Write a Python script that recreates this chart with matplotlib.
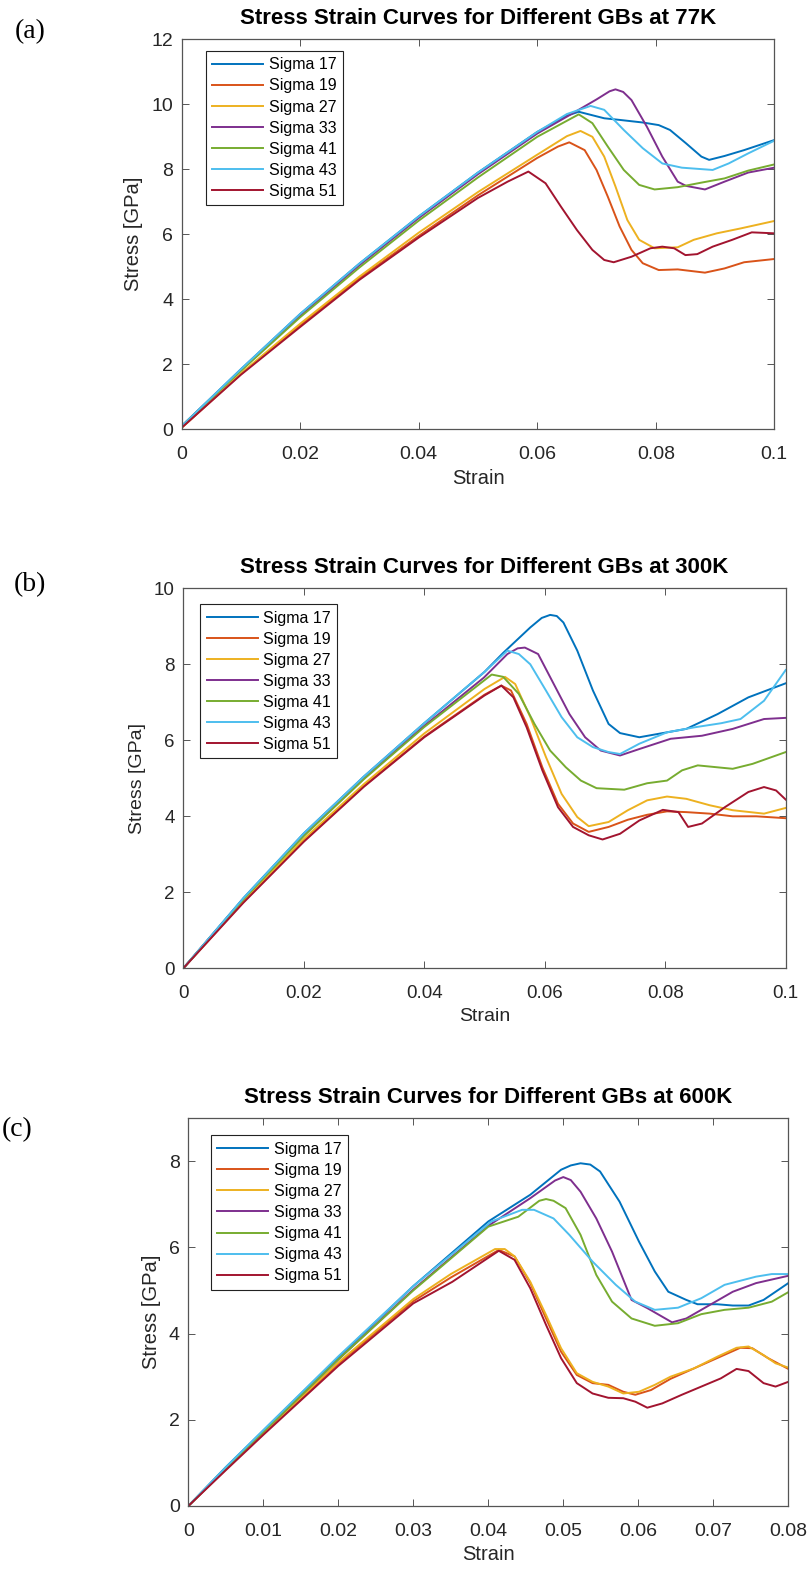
import numpy as np
import matplotlib
matplotlib.use("Agg")
from matplotlib import pyplot as plt
from matplotlib.ticker import FormatStrFormatter

labels = ['Sigma 17', 'Sigma 19', 'Sigma 27', 'Sigma 33', 'Sigma 41', 'Sigma 43', 'Sigma 51']
colors = ['#0072BD', '#D95319', '#EDB120', '#7E2F8E', '#77AC30', '#4DBEEE', '#A2142F']

# ---- 77K ----
strain_77 = {
    'Sigma 17': [0, 0.01, 0.02, 0.03, 0.04, 0.05, 0.06, 0.065, 0.067, 0.0713, 0.0739, 0.0778, 0.0805, 0.0824,
                 0.0851, 0.0877, 0.089, 0.0916, 0.0949, 0.1],
    'Sigma 19': [0, 0.01, 0.02, 0.03, 0.04, 0.05, 0.06, 0.0635, 0.0654, 0.068, 0.07, 0.0719, 0.0739, 0.0759, 0.0778,
                 0.0805, 0.0837, 0.0883, 0.0916, 0.0949, 0.1],
    'Sigma 27': [0, 0.01, 0.02, 0.03, 0.04, 0.05, 0.06, 0.065, 0.0673, 0.0693, 0.0713, 0.0732, 0.0752, 0.0772,
                 0.0798, 0.0837, 0.0864, 0.0903, 0.0943, 0.1],
    'Sigma 33': [0, 0.01, 0.02, 0.03, 0.04, 0.05, 0.06, 0.065, 0.07, 0.0722, 0.0732, 0.0745, 0.0759, 0.0785, 0.0811,
                 0.0837, 0.0851, 0.0883, 0.0916, 0.0956, 0.1],
    'Sigma 41': [0, 0.01, 0.02, 0.03, 0.04, 0.05, 0.06, 0.067, 0.0693, 0.0719, 0.0746, 0.0772, 0.0798, 0.0837,
                 0.0877, 0.0916, 0.0956, 0.1],
    'Sigma 43': [0, 0.01, 0.02, 0.03, 0.04, 0.05, 0.06, 0.065, 0.069, 0.0713, 0.0746, 0.0778, 0.0811, 0.0844,
                 0.0896, 0.0923, 0.0956, 0.1],
    'Sigma 51': [0, 0.01, 0.02, 0.03, 0.04, 0.05, 0.055, 0.0585, 0.0614, 0.064, 0.0667, 0.0693, 0.0713, 0.0729,
                 0.0759, 0.0791, 0.0811, 0.0831, 0.085, 0.087, 0.0896, 0.0929, 0.0962, 0.1],
}
stress_77 = {
    'Sigma 17': [0.1, 1.85, 3.55, 5.1, 6.55, 7.9, 9.15, 9.65, 9.77, 9.57, 9.52, 9.44, 9.36, 9.21, 8.8, 8.39, 8.29,
                 8.41, 8.59, 8.9],
    'Sigma 19': [0.05, 1.7, 3.2, 4.65, 5.95, 7.2, 8.35, 8.7, 8.83, 8.59, 7.98, 7.16, 6.24, 5.52, 5.11, 4.9, 4.92,
                 4.82, 4.95, 5.14, 5.24],
    'Sigma 27': [0.05, 1.72, 3.25, 4.7, 6.05, 7.3, 8.45, 9.02, 9.18, 9.0, 8.39, 7.47, 6.44, 5.83, 5.57, 5.6, 5.83,
                 6.03, 6.18, 6.41],
    'Sigma 33': [0.1, 1.82, 3.5, 5.05, 6.5, 7.85, 9.1, 9.62, 10.15, 10.4, 10.46, 10.38, 10.13, 9.31, 8.39, 7.62,
                 7.49, 7.38, 7.62, 7.9, 8.05],
    'Sigma 41': [0.1, 1.8, 3.45, 4.98, 6.42, 7.75, 9.0, 9.69, 9.42, 8.7, 7.98, 7.52, 7.38, 7.45, 7.59, 7.72, 7.96,
                 8.15],
    'Sigma 43': [0.1, 1.85, 3.55, 5.1, 6.55, 7.9, 9.15, 9.7, 9.95, 9.83, 9.21, 8.65, 8.18, 8.05, 7.98, 8.18, 8.49,
                 8.88],
    'Sigma 51': [0.05, 1.68, 3.15, 4.6, 5.9, 7.12, 7.62, 7.93, 7.57, 6.85, 6.13, 5.52, 5.21, 5.14, 5.31, 5.57, 5.62,
                 5.57, 5.36, 5.39, 5.62, 5.83, 6.06, 6.03],
}

# ---- 300K ----
strain_300 = {
    'Sigma 17': [0, 0.01, 0.02, 0.03, 0.04, 0.05, 0.0531, 0.0576, 0.0595, 0.0609, 0.062, 0.0631, 0.0654, 0.068,
                 0.0706, 0.0725, 0.0757, 0.0803, 0.0835, 0.0887, 0.0938, 0.1],
    'Sigma 19': [0, 0.01, 0.02, 0.03, 0.04, 0.05, 0.0528, 0.0544, 0.057, 0.0596, 0.0622, 0.0647, 0.0673, 0.0706,
                 0.0738, 0.077, 0.0803, 0.0835, 0.0874, 0.0912, 0.0951, 0.1],
    'Sigma 27': [0, 0.01, 0.02, 0.03, 0.04, 0.05, 0.0534, 0.0551, 0.0576, 0.0602, 0.0628, 0.0654, 0.0673, 0.0706,
                 0.0738, 0.077, 0.0803, 0.0835, 0.0874, 0.0912, 0.0964, 0.1],
    'Sigma 33': [0, 0.01, 0.02, 0.03, 0.04, 0.0499, 0.0538, 0.0555, 0.0567, 0.0589, 0.0615, 0.0641, 0.0667, 0.0693,
                 0.0725, 0.0757, 0.0809, 0.0861, 0.0912, 0.0964, 0.1],
    'Sigma 41': [0, 0.01, 0.02, 0.03, 0.04, 0.0512, 0.0531, 0.0557, 0.0583, 0.0609, 0.0635, 0.066, 0.0686, 0.0732,
                 0.077, 0.0803, 0.0828, 0.0854, 0.0912, 0.0945, 0.1],
    'Sigma 43': [0, 0.01, 0.02, 0.03, 0.04, 0.05, 0.0538, 0.0557, 0.0576, 0.0602, 0.0628, 0.0654, 0.068, 0.0706,
                 0.0725, 0.0757, 0.0803, 0.0848, 0.0893, 0.0925, 0.0964, 0.1],
    'Sigma 51': [0, 0.01, 0.02, 0.03, 0.04, 0.05, 0.0528, 0.0548, 0.057, 0.0596, 0.0622, 0.0647, 0.0673, 0.0696,
                 0.0725, 0.0757, 0.0796, 0.0822, 0.0838, 0.0861, 0.0899, 0.0938, 0.0964, 0.0984, 0.1],
}
stress_300 = {
    'Sigma 17': [0, 1.85, 3.55, 5.05, 6.45, 7.8, 8.3, 8.97, 9.22, 9.3, 9.27, 9.1, 8.36, 7.31, 6.43, 6.19, 6.08,
                 6.21, 6.3, 6.69, 7.13, 7.5],
    'Sigma 19': [0, 1.75, 3.35, 4.8, 6.1, 7.2, 7.44, 7.31, 6.43, 5.29, 4.33, 3.81, 3.59, 3.72, 3.91, 4.04, 4.13,
                 4.11, 4.07, 4.0, 4.0, 3.95],
    'Sigma 27': [0, 1.77, 3.4, 4.85, 6.18, 7.35, 7.67, 7.48, 6.61, 5.56, 4.59, 3.98, 3.74, 3.85, 4.16, 4.42, 4.52,
                 4.46, 4.29, 4.16, 4.07, 4.22],
    'Sigma 33': [0, 1.83, 3.5, 5.0, 6.38, 7.65, 8.27, 8.42, 8.44, 8.27, 7.48, 6.69, 6.08, 5.73, 5.6, 5.77, 6.04,
                 6.12, 6.3, 6.56, 6.59],
    'Sigma 41': [0, 1.82, 3.48, 4.98, 6.35, 7.73, 7.67, 7.22, 6.43, 5.73, 5.29, 4.94, 4.74, 4.7, 4.87, 4.94, 5.21,
                 5.34, 5.25, 5.38, 5.69],
    'Sigma 43': [0, 1.85, 3.55, 5.05, 6.45, 7.8, 8.36, 8.27, 8.0, 7.31, 6.61, 6.08, 5.82, 5.69, 5.64, 5.91, 6.21,
                 6.34, 6.45, 6.56, 7.04, 7.85],
    'Sigma 51': [0, 1.73, 3.33, 4.78, 6.08, 7.18, 7.44, 7.13, 6.34, 5.21, 4.24, 3.72, 3.5, 3.39, 3.54, 3.89, 4.17,
                 4.11, 3.72, 3.81, 4.24, 4.64, 4.77, 4.68, 4.44],
}

# ---- 600K ----
strain_600 = {
    'Sigma 17': [0, 0.005, 0.01, 0.02, 0.03, 0.04, 0.0456, 0.0497, 0.051, 0.0523, 0.0536, 0.0549, 0.0575, 0.0601,
                 0.0622, 0.064, 0.0664, 0.0679, 0.0705, 0.0726, 0.0747, 0.0767, 0.08],
    'Sigma 19': [0, 0.005, 0.01, 0.02, 0.03, 0.035, 0.0414, 0.0435, 0.0456, 0.0477, 0.0497, 0.0518, 0.0539, 0.056,
                 0.058, 0.0596, 0.0617, 0.0643, 0.0674, 0.0705, 0.0736, 0.0752, 0.0773, 0.08],
    'Sigma 27': [0, 0.005, 0.01, 0.02, 0.03, 0.035, 0.0409, 0.0422, 0.0435, 0.0456, 0.0477, 0.0497, 0.0518, 0.0539,
                 0.056, 0.058, 0.0601, 0.0622, 0.0643, 0.0674, 0.0705, 0.0731, 0.0747, 0.0767, 0.0783, 0.08],
    'Sigma 33': [0, 0.005, 0.01, 0.02, 0.03, 0.04, 0.0456, 0.0489, 0.05, 0.051, 0.0523, 0.0544, 0.0565, 0.0591,
                 0.0612, 0.0645, 0.0664, 0.0695, 0.0726, 0.0757, 0.08],
    'Sigma 41': [0, 0.005, 0.01, 0.02, 0.03, 0.04, 0.044, 0.0468, 0.0477, 0.0487, 0.0503, 0.0523, 0.0544, 0.0565,
                 0.0591, 0.0622, 0.0653, 0.0684, 0.0715, 0.0747, 0.0778, 0.08],
    'Sigma 43': [0, 0.005, 0.01, 0.02, 0.03, 0.0404, 0.0445, 0.0461, 0.0487, 0.0508, 0.0539, 0.057, 0.0596, 0.0622,
                 0.0653, 0.0684, 0.0715, 0.0757, 0.0778, 0.08],
    'Sigma 51': [0, 0.005, 0.01, 0.02, 0.03, 0.0352, 0.0414, 0.0435, 0.0456, 0.0477, 0.0497, 0.0518, 0.0539, 0.056,
                 0.058, 0.0596, 0.0612, 0.0632, 0.0658, 0.0684, 0.071, 0.0731, 0.0747, 0.0767, 0.0783, 0.08],
}
stress_600 = {
    'Sigma 17': [0, 0.9, 1.75, 3.45, 5.1, 6.6, 7.22, 7.8, 7.9, 7.95, 7.92, 7.76, 7.06, 6.13, 5.44, 4.97, 4.78,
                 4.68, 4.68, 4.65, 4.65, 4.78, 5.17],
    'Sigma 19': [0, 0.85, 1.68, 3.3, 4.75, 5.3, 5.94, 5.79, 5.17, 4.35, 3.58, 3.04, 2.85, 2.81, 2.65, 2.58, 2.69,
                 2.95, 3.19, 3.43, 3.67, 3.66, 3.43, 3.18],
    'Sigma 27': [0, 0.87, 1.7, 3.33, 4.8, 5.38, 5.96, 5.96, 5.79, 5.2, 4.43, 3.66, 3.08, 2.88, 2.77, 2.61, 2.65,
                 2.81, 3.0, 3.19, 3.46, 3.67, 3.7, 3.5, 3.31, 3.21],
    'Sigma 33': [0, 0.88, 1.72, 3.4, 5.02, 6.5, 7.14, 7.55, 7.63, 7.56, 7.29, 6.67, 5.9, 4.78, 4.59, 4.26, 4.35,
                 4.66, 4.97, 5.17, 5.34],
    'Sigma 41': [0, 0.88, 1.72, 3.4, 5.0, 6.48, 6.71, 7.08, 7.12, 7.08, 6.91, 6.29, 5.36, 4.74, 4.35, 4.18, 4.24,
                 4.45, 4.55, 4.6, 4.74, 4.96],
    'Sigma 43': [0, 0.9, 1.76, 3.47, 5.1, 6.6, 6.87, 6.87, 6.67, 6.29, 5.67, 5.13, 4.74, 4.55, 4.6, 4.82, 5.13,
                 5.32, 5.38, 5.38],
    'Sigma 51': [0, 0.83, 1.65, 3.25, 4.7, 5.2, 5.92, 5.71, 5.05, 4.2, 3.43, 2.85, 2.61, 2.51, 2.5, 2.42, 2.28,
                 2.38, 2.58, 2.77, 2.96, 3.18, 3.13, 2.85, 2.77, 2.88],
}

W, H = 812, 1574
fig = plt.figure(figsize=(W / 100, H / 100), dpi=100)
axcol = '#555555'
txtcol = '#262626'


def make_axes(l, t, r, b):
    return fig.add_axes([l / W, 1 - b / H, (r - l) / W, (b - t) / H])


def draw_panel(ax, strain, stress, title, xmax, xstep, ymax, ystep, anchor, fs):
    for lab, col in zip(labels, colors):
        ax.plot(strain[lab], stress[lab], color=col, lw=1.4, label=lab)
    ax.set_xlim(0, xmax)
    ax.set_ylim(0, ymax)
    ax.set_xticks(np.arange(0, xmax + 1e-9, xstep))
    ax.set_yticks(np.arange(0, ymax + 1e-9, ystep))
    ax.xaxis.set_major_formatter(FormatStrFormatter('%g'))
    ax.yaxis.set_major_formatter(FormatStrFormatter('%g'))
    ax.tick_params(direction='in', top=True, right=True, length=5, width=0.7,
                   colors=axcol, labelcolor=txtcol, labelsize=fs)
    ax.tick_params(axis='x', pad=12)
    ax.tick_params(axis='y', pad=6)
    for sp in ax.spines.values():
        sp.set_color(axcol)
        sp.set_linewidth(0.9)
    ax.set_title(title, fontsize=16, fontweight='bold', pad=11)
    ax.set_xlabel('Strain', fontsize=fs + 0.5, color=txtcol, labelpad=4)
    ax.set_ylabel('Stress [GPa]', fontsize=fs + 0.5, color=txtcol, labelpad=6)
    leg = ax.legend(loc='upper left', bbox_to_anchor=anchor, borderaxespad=0, fontsize=11.5,
                    fancybox=False, framealpha=1, edgecolor='#222222', handlelength=3.2,
                    handletextpad=0.35, labelspacing=0.38, borderpad=0.4)
    leg.get_frame().set_linewidth(0.8)


plt.rcParams['font.family'] = ['Liberation Sans', 'DejaVu Sans']

ax_a = make_axes(181.7, 39.3, 774.3, 429.3)
draw_panel(ax_a, strain_77, stress_77, 'Stress Strain Curves for Different GBs at 77K',
           0.1, 0.02, 12, 2, (0.041, 0.97), 14)

ax_b = make_axes(183.3, 588.3, 785.7, 968.3)
draw_panel(ax_b, strain_300, stress_300, 'Stress Strain Curves for Different GBs at 300K',
           0.1, 0.02, 10, 2, (0.028, 0.958), 13.5)

ax_c = make_axes(188.3, 1118, 788.3, 1506)
draw_panel(ax_c, strain_600, stress_600, 'Stress Strain Curves for Different GBs at 600K',
           0.08, 0.01, 9, 2, (0.0377, 0.955), 14)
ax_c.set_yticks([0, 2, 4, 6, 8])

for txt, x, y in [('(a)', 30, 32), ('(b)', 30, 585), ('(c)', 17, 1130)]:
    fig.text(x / W, 1 - y / H, txt, family='Liberation Serif', fontsize=20, ha='center', va='center')

fig.savefig('out.png', dpi=100)
